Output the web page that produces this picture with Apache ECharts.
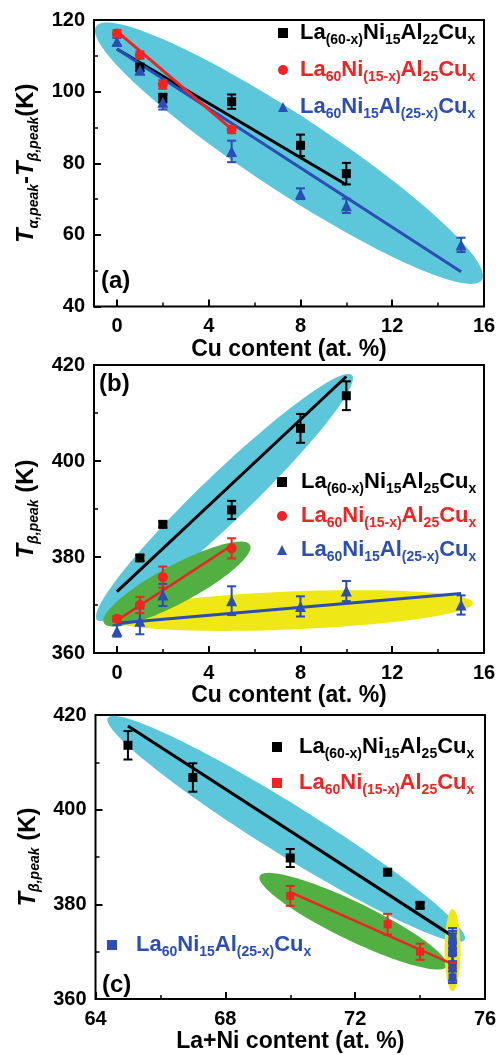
<!DOCTYPE html>
<html><head><meta charset="utf-8">
<script src="https://cdn.jsdelivr.net/npm/echarts@6/dist/echarts.min.js"></script>
<style>html,body{margin:0;padding:0;background:#fff}#c{width:500px;height:1055px}</style>
</head><body><div id="c"></div><script>
// ---------------- DATA ----------------
// Panel (a): Cu content (at.%) vs T_alpha,peak - T_beta,peak (K)
const cuA_black = [1, 2, 5, 8, 10];
const dTA_black = [106.8, 98.2, 97.2, 85.0, 77.1];
const errA_black = [1.0, 1.2, 2.0, 3.0, 3.0];
const cuA_red = [0, 1, 2, 5];
const dTA_red = [116.2, 110.2, 102.0, 89.4];
const errA_red = [1.0, 1.0, 1.2, 1.0];
const cuA_blue = [0, 1, 2, 5, 8, 10, 15];
const dTA_blue = [114.0, 106.0, 97.0, 83.3, 71.5, 68.1, 57.2];
const errA_blue = [1.0, 1.0, 2.0, 3.0, 1.5, 2.0, 2.0];
const fitA_black = [[0, 111.9], [10, 74.0]];
const fitA_red = [[0, 116.8], [5, 89.5]];
const fitA_blue = [[0, 111.9], [15, 49.7]];
const ellA_cyan = [-0.91, 118.2, 15.91, 47.4];

// Panel (b): Cu content (at.%) vs T_beta,peak (K)
const cuB_black = [1, 2, 5, 8, 10];
const tB_black = [379.8, 386.8, 389.8, 406.8, 413.6];
const errB_black = [0.6, 0.6, 1.9, 3.0, 3.0];
const cuB_red = [0, 1, 2, 5];
const tB_red = [367.1, 370.0, 375.8, 381.8];
const errB_red = [0.6, 1.7, 2.2, 2.1];
const cuB_blue = [0, 1, 2, 5, 8, 10, 15];
const tB_blue = [364.6, 366.6, 372.1, 370.9, 369.7, 372.9, 370.0];
const errB_blue = [1.2, 2.7, 2.3, 3.0, 2.1, 2.1, 2.0];
const fitB_black = [[0, 372.8], [10, 417.6]];
const fitB_red = [[0, 366.8], [5, 382.4]];
const fitB_blue = [[0, 366.2], [15, 372.4]];
const ellB_cyan = [-0.87, 366.9, 10.24, 417.9];
const ellB_green = [-0.57, 366.25, 5.80, 382.5];
const ellB_yellow = [-0.44, 367.3, 15.52, 370.4];

// Panel (c): La+Ni content (at.%) vs T_beta,peak (K) (same samples as panel b)
const laNiC_black = [74, 73, 70, 67, 65];
const laNiC_red = [75, 74, 73, 70];
const laNiC_blue = [75, 75, 75, 75, 75, 75, 75];
const fitC_black = [[65, 417.7], [75, 373.3]];
const fitC_red = [[70, 382.6], [75, 367.4]];
const ellC_cyan = [64.38, 419.4, 75.37, 372.5];
const ellC_green = [69.06, 386.0, 74.82, 366.9];
const ellC_yellow = [75.0, 379.0, 75.0, 361.7];

// axis ticks
const xTicksCu = [0, 4, 8, 12, 16];
const xMinorCu = [2, 6, 10, 14];

// legend labels (markup: _{...} = subscript)
const LABELS = {
  a1: ['La_{(60-x)}Ni_{15}Al_{22}Cu_{x}', 'k'],
  a2: ['La_{60}Ni_{(15-x)}Al_{25}Cu_{x}', 'r'],
  a3: ['La_{60}Ni_{15}Al_{(25-x)}Cu_{x}', 'b'],
  b1: ['La_{(60-x)}Ni_{15}Al_{25}Cu_{x}', 'k'],
  b2: ['La_{60}Ni_{(15-x)}Al_{25}Cu_{x}', 'r'],
  b3: ['La_{60}Ni_{15}Al_{(25-x)}Cu_{x}', 'b'],
  c1: ['La_{(60-x)}Ni_{15}Al_{25}Cu_{x}', 'k'],
  c2: ['La_{60}Ni_{(15-x)}Al_{25}Cu_{x}', 'r'],
  c3: ['La_{60}Ni_{15}Al_{(25-x)}Cu_{x}', 'b']
};

// ---------------- STYLE ----------------
const FONT = '"Liberation Sans", Arial, sans-serif';
const COL = { k: '#000000', r: '#f02222', b: '#2b4db4', cyan: '#5cc6da', green: '#52b042', yellow: '#efe716' };

function richLabel(markup, key) {
  const parts = markup.split(/_\{([^}]*)\}/);
  let out = '';
  parts.forEach((p, i) => { if (p) out += '{' + (i % 2 ? 's' : 'm') + key + '|' + p + '}'; });
  return out;
}
const legendRich = {};
['k', 'r', 'b'].forEach(k => {
  legendRich['m' + k] = { fontFamily: FONT, fontWeight: 'bold', fontSize: 22, color: COL[k], lineHeight: 28, verticalAlign: 'middle' };
  legendRich['s' + k] = { fontFamily: FONT, fontWeight: 'bold', fontSize: 14, color: COL[k], lineHeight: 28, verticalAlign: 'middle', padding: [14, 0, 0, 0] };
});

const zip = (xs, ys) => xs.map((x, i) => [x, ys[i]]);
const zip3 = (xs, ys, es) => xs.map((x, i) => [x, ys[i], es[i]]);

const PX = [0, 2, 4], PY = [0, 1, 2];

function ellipseSeries(p, geom, halfWidth, color, z) {
  return {
    type: 'custom', xAxisIndex: PX[p], yAxisIndex: PY[p], z: z, silent: true, clip: false,
    data: [geom],
    renderItem: function (params, api) {
      const p1 = api.coord([api.value(0), api.value(1)]);
      const p2 = api.coord([api.value(2), api.value(3)]);
      const cx = (p1[0] + p2[0]) / 2, cy = (p1[1] + p2[1]) / 2;
      const dx = p2[0] - p1[0], dy = p2[1] - p1[1];
      const a = Math.hypot(dx, dy) / 2, ang = Math.atan2(dy, dx);
      const pts = [];
      for (let i = 0; i < 120; i++) {
        const t = i / 120 * 2 * Math.PI;
        const ex = a * Math.cos(t), ey = halfWidth * Math.sin(t);
        pts.push([cx + ex * Math.cos(ang) - ey * Math.sin(ang), cy + ex * Math.sin(ang) + ey * Math.cos(ang)]);
      }
      return { type: 'polygon', shape: { points: pts }, style: { fill: color } };
    }
  };
}
function fitSeries(p, data, color, width) {
  return { type: 'line', xAxisIndex: PX[p], yAxisIndex: PY[p], z: 3, silent: true, data: data,
    symbol: 'none', lineStyle: { color: color, width: width } };
}
function errSeries(p, xs, ys, es, color) {
  return {
    type: 'custom', xAxisIndex: PX[p], yAxisIndex: PY[p], z: 4, silent: true,
    data: zip3(xs, ys, es),
    renderItem: function (params, api) {
      const x = api.value(0), y = api.value(1), e = api.value(2);
      const t = api.coord([x, y + e]), b = api.coord([x, y - e]);
      const hw = 4.5, st = { stroke: color, lineWidth: 2 };
      return { type: 'group', children: [
        { type: 'line', shape: { x1: t[0], y1: t[1], x2: b[0], y2: b[1] }, style: st },
        { type: 'line', shape: { x1: t[0] - hw, y1: t[1], x2: t[0] + hw, y2: t[1] }, style: st },
        { type: 'line', shape: { x1: b[0] - hw, y1: b[1], x2: b[0] + hw, y2: b[1] }, style: st }
      ] };
    }
  };
}
function ptSeries(p, name, xs, ys, color, symbol, size) {
  return { type: 'scatter', name: name, xAxisIndex: PX[p], yAxisIndex: PY[p], z: 5,
    data: zip(xs, ys), symbol: symbol, symbolSize: size, itemStyle: { color: color, opacity: 1 } };
}

const tickLbl = { fontFamily: FONT, fontWeight: 'bold', fontSize: 20, color: '#000' };
const nameStyle = { fontFamily: FONT, fontWeight: 'bold', fontSize: 23, color: '#000', lineHeight: 24 };
const noLine = { show: false, onZero: false };

function cuAxis(grid, gap) {
  return [{
    gridIndex: grid, type: 'value', min: -1, max: 16, position: 'bottom',
    axisLine: noLine, splitLine: { show: false },
    axisTick: { show: true, inside: true, length: 7, customValues: xTicksCu, lineStyle: { color: '#000', width: 2 } },
    axisLabel: { customValues: xTicksCu, margin: 10, ...tickLbl },
    name: 'Cu content (at. %)', nameLocation: 'middle', nameGap: gap, nameTextStyle: nameStyle
  }, {
    gridIndex: grid, type: 'value', min: -1, max: 16, position: 'bottom',
    axisLine: noLine, splitLine: { show: false }, axisLabel: { show: false },
    axisTick: { show: true, inside: true, length: 4, customValues: xMinorCu, lineStyle: { color: '#000', width: 1.5 } }
  }];
}
function yAx(grid, min, max, name, rich) {
  return {
    gridIndex: grid, type: 'value', min: min, max: max, interval: 20, position: 'left',
    axisLine: noLine, splitLine: { show: false },
    axisTick: { show: true, inside: true, length: 7, lineStyle: { color: '#000', width: 2 } },
    minorTick: { show: true, splitNumber: 2, length: 4, lineStyle: { color: '#000', width: 1.5 } },
    axisLabel: { margin: 9, ...tickLbl },
    name: name, nameLocation: 'middle', nameRotate: 90, nameGap: 52,
    nameTextStyle: { rich: rich }
  };
}
const yRich = {
  T: { fontFamily: FONT, fontWeight: 'bold', fontStyle: 'italic', fontSize: 24, color: '#000', lineHeight: 30 },
  s: { fontFamily: FONT, fontWeight: 'bold', fontStyle: 'italic', fontSize: 14, color: '#000', lineHeight: 30, padding: [14, 0, 0, 0] },
  n: { fontFamily: FONT, fontWeight: 'bold', fontSize: 24, color: '#000', lineHeight: 30 }
};

function legend(names, left, top, gap, pad, icon) {
  return {
    orient: 'vertical', left: left, top: top, itemGap: gap, itemWidth: 10, itemHeight: 10,
    padding: 0, selectedMode: false, icon: icon,
    data: names,
    formatter: function (n) { return richLabel(LABELS[n][0], LABELS[n][1]); },
    textStyle: { padding: [0, 0, 0, pad], rich: legendRich }
  };
}

const chart = echarts.init(document.getElementById('c'), null, { renderer: 'canvas' });
const xA = cuAxis(0, 27), xB = cuAxis(1, 29);
const option = {
  animation: false,
  backgroundColor: '#fff',
  grid: [
    { left: 94, top: 20, width: 390, height: 286.5, show: true, borderColor: '#000', borderWidth: 2, backgroundColor: 'transparent' },
    { left: 94, top: 365, width: 390, height: 288, show: true, borderColor: '#000', borderWidth: 2, backgroundColor: 'transparent' },
    { left: 95.5, top: 715, width: 389.5, height: 288, show: true, borderColor: '#000', borderWidth: 2, backgroundColor: 'transparent' }
  ],
  xAxis: [xA[0], xA[1], xB[0], xB[1], {
    gridIndex: 2, type: 'value', min: 64, max: 76, interval: 4, position: 'bottom',
    axisLine: noLine, splitLine: { show: false },
    axisTick: { show: true, inside: true, length: 7, lineStyle: { color: '#000', width: 2 } },
    minorTick: { show: true, splitNumber: 2, length: 4, lineStyle: { color: '#000', width: 1.5 } },
    axisLabel: { margin: 10, ...tickLbl },
    name: 'La+Ni content (at. %)', nameLocation: 'middle', nameGap: 22, nameTextStyle: nameStyle
  }],
  yAxis: [
    yAx(0, 40, 120, '{T|T}{s|α,peak}{n|-}{T|T}{s|β,peak}{n|(K)}', yRich),
    yAx(1, 360, 420, '{T|T}{s|β,peak}{n| (K)}', yRich),
    yAx(2, 360, 420, '{T|T}{s|β,peak}{n| (K)}', yRich)
  ],
  legend: [
    legend(['a1', 'a2', 'a3'], 278, 19, 9, 7),
    legend(['b1', 'b2', 'b3'], 277, 468, 6, 9),
    legend(['c1', 'c2'], 272, 733, 8, 12, 'rect'),
    legend(['c3'], 107, 931, 8, 14, 'rect')
  ],
  graphic: [
    { type: 'text', left: 101, top: 269, style: { text: '(a)', font: 'bold 24px ' + FONT, fill: '#000' } },
    { type: 'text', left: 99, top: 372, style: { text: '(b)', font: 'bold 24px ' + FONT, fill: '#000' } },
    { type: 'text', left: 102, top: 973, style: { text: '(c)', font: 'bold 24px ' + FONT, fill: '#000' } }
  ],
  series: [
    // panel a
    ellipseSeries(0, ellA_cyan, 38, COL.cyan, 1),
    fitSeries(0, fitA_black, COL.k, 3),
    fitSeries(0, fitA_blue, COL.b, 3),
    fitSeries(0, fitA_red, COL.r, 3),
    errSeries(0, cuA_black, dTA_black, errA_black, COL.k),
    errSeries(0, cuA_blue, dTA_blue, errA_blue, COL.b),
    errSeries(0, cuA_red, dTA_red, errA_red, COL.r),
    ptSeries(0, 'a1', cuA_black, dTA_black, COL.k, 'rect', 9),
    ptSeries(0, 'a3', cuA_blue, dTA_blue, COL.b, 'triangle', 11),
    ptSeries(0, 'a2', cuA_red, dTA_red, COL.r, 'circle', 10),
    // panel b
    ellipseSeries(1, ellB_cyan, 24, COL.cyan, 1),
    ellipseSeries(1, ellB_yellow, 19, COL.yellow, 1),
    ellipseSeries(1, ellB_green, 19, COL.green, 1),
    fitSeries(1, fitB_black, COL.k, 3),
    fitSeries(1, fitB_blue, COL.b, 3),
    fitSeries(1, fitB_red, COL.r, 2.5),
    errSeries(1, cuB_black, tB_black, errB_black, COL.k),
    errSeries(1, cuB_blue, tB_blue, errB_blue, COL.b),
    errSeries(1, cuB_red, tB_red, errB_red, COL.r),
    ptSeries(1, 'b1', cuB_black, tB_black, COL.k, 'rect', 9),
    ptSeries(1, 'b3', cuB_blue, tB_blue, COL.b, 'triangle', 11),
    ptSeries(1, 'b2', cuB_red, tB_red, COL.r, 'circle', 10),
    // panel c
    ellipseSeries(2, ellC_green, 19, COL.green, 1),
    ellipseSeries(2, ellC_cyan, 25, COL.cyan, 1),
    ellipseSeries(2, ellC_yellow, 8, COL.yellow, 1),
    fitSeries(2, fitC_black, COL.k, 3),
    fitSeries(2, fitC_red, COL.r, 2.5),
    errSeries(2, laNiC_black, tB_black, errB_black, COL.k),
    errSeries(2, laNiC_red, tB_red, errB_red, COL.r),
    errSeries(2, laNiC_blue, tB_blue, errB_blue, COL.b),
    ptSeries(2, 'c1', laNiC_black, tB_black, COL.k, 'rect', 9),
    ptSeries(2, 'c2', laNiC_red, tB_red, COL.r, 'rect', 8),
    ptSeries(2, 'c3', laNiC_blue, tB_blue, COL.b, 'rect', 8)
  ]
};
chart.setOption(option);
</script></body></html>
